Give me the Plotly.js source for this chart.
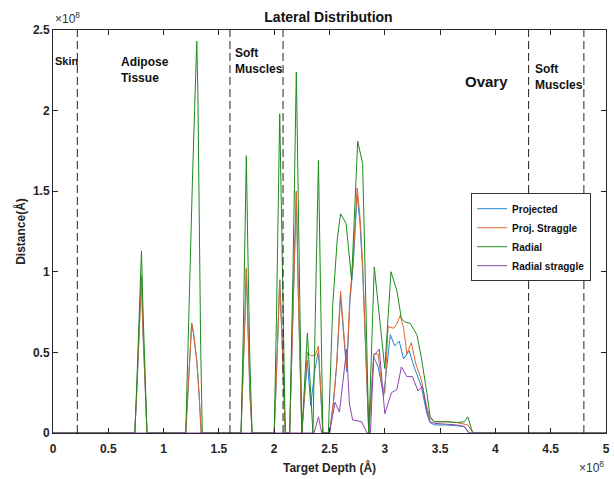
<!DOCTYPE html>
<html>
<head>
<meta charset="utf-8">
<script src="https://cdn.plot.ly/plotly-3.0.1.min.js"></script>
<style>html,body{margin:0;padding:0;background:#fff;}#chart{width:614px;height:479px;}</style>
</head>
<body>
<div id="chart"></div>
<script>
// Values in units of 1e8
var projX = [0,0.74,0.76,0.78,0.795,0.80,0.81,0.83,0.85,
  1.20,1.23,1.254,1.27,1.30,1.32,1.34,
  1.70,1.72,1.735,1.748,1.76,1.78,1.80,
  2.00,2.02,2.035,2.05,2.07,2.085,2.10,
  2.14,2.17,2.20,2.22,2.25,
  2.30,2.33,2.37,2.40,2.44,
  2.50,2.535,2.565,2.60,2.625,2.655,2.685,2.715,2.75,2.776,2.80,2.836,2.855,
  2.90,2.94,2.99,3.05,3.09,3.13,3.17,3.22,3.27,3.33,3.38,3.41,3.45,3.55,3.65,3.72,3.76,5];
var projY = [0,0,0.3,0.6,0.9,0.98,0.7,0.35,0,
  0,0.4,0.68,0.62,0.45,0.25,0,
  0,0.35,0.7,1.02,0.7,0.25,0,
  0,0.35,0.65,0.95,0.6,0.25,0,
  0,0.7,1.50,0.8,0,
  0.45,0.17,0.40,0.51,0,
  0,0.18,0.42,0.85,0.62,0.38,0.82,1.05,1.48,1.30,1.0,0.4,0,
  0.47,0.41,0.23,0.61,0.54,0.57,0.46,0.51,0.40,0.29,0.12,0.064,0.05,0.05,0.045,0.04,0,0];

var pstrX = [0,0.74,0.76,0.78,0.795,0.80,0.81,0.83,0.85,
  1.20,1.23,1.254,1.27,1.30,1.32,1.34,
  1.70,1.72,1.735,1.748,1.76,1.78,1.80,
  2.00,2.02,2.035,2.05,2.07,2.085,2.10,
  2.14,2.17,2.20,2.22,2.25,
  2.30,2.33,2.37,2.40,2.44,
  2.50,2.535,2.565,2.60,2.625,2.655,2.685,2.715,2.75,2.776,2.80,2.836,2.855,
  2.90,2.94,2.97,3.00,3.03,3.08,3.11,3.14,3.17,3.20,3.24,3.28,3.33,3.38,3.41,3.45,3.55,3.65,3.75,3.80,5];
var pstrY = [0,0,0.3,0.6,0.9,0.98,0.7,0.35,0,
  0,0.4,0.68,0.62,0.45,0.25,0,
  0,0.35,0.7,1.02,0.7,0.25,0,
  0,0.35,0.65,0.95,0.6,0.25,0,
  0,0.7,1.50,0.8,0,
  0.50,0.48,0.48,0.54,0,
  0,0.19,0.43,0.88,0.64,0.40,0.85,1.09,1.52,1.34,1.05,0.43,0,
  0.49,0.49,0.31,0.25,0.66,0.65,0.68,0.73,0.65,0.49,0.56,0.43,0.33,0.16,0.09,0.07,0.07,0.065,0.05,0,0];

var radX = [0,0.74,0.76,0.78,0.795,0.80,0.81,0.83,0.85,
  1.20,1.22,1.24,1.26,1.28,1.30,1.31,1.32,1.335,1.35,
  1.70,1.72,1.735,1.748,1.76,1.78,1.80,
  2.00,2.02,2.035,2.05,2.07,2.085,2.10,
  2.14,2.17,2.20,2.22,2.25,
  2.30,2.35,2.40,2.44,
  2.49,2.53,2.57,2.60,2.65,2.70,2.755,2.80,2.855,
  2.905,3.00,3.056,3.11,3.15,3.18,3.23,3.29,3.33,3.38,3.41,3.45,3.55,3.65,3.72,3.75,3.795,5];
var radY = [0,0,0.35,0.75,1.05,1.13,0.85,0.4,0,
  0,0.55,1.05,1.55,2.0,2.43,2.1,1.4,0.55,0,
  0,0.6,1.2,1.72,1.2,0.45,0,
  0,0.7,1.4,1.98,1.2,0.5,0,
  0,1.0,2.24,1.3,0,
  0.62,0,1.69,0,
  0,0.8,1.2,1.36,1.30,0.95,1.81,1.67,0,
  1.03,0.40,1.0,0.88,0.71,0.69,0.68,0.61,0.47,0.25,0.10,0.07,0.07,0.065,0.07,0.10,0,0];

var rstrX = [0,2.36,2.40,2.43,2.50,2.55,2.59,2.655,2.68,2.71,2.79,2.84,2.87,
  2.90,2.95,3.00,3.06,3.11,3.15,3.20,3.25,3.30,3.34,3.38,3.41,3.45,3.55,3.65,3.72,3.76,5];
var rstrY = [0,0,0.10,0,0,0.19,0.13,0.52,0.18,0.08,0.07,0,0,
  0.48,0.52,0.12,0.25,0.27,0.41,0.35,0.35,0.26,0.29,0.14,0.07,0.06,0.055,0.05,0.04,0,0];

var seriesNames = ["Projected","Proj. Straggle","Radial","Radial straggle"];
var seriesColors = ["#1f86d0","#e0672c","#1b8a1b","#8e44ad"];

var boundaries = [0.22,1.60,2.08,4.30,4.80];
var tissueLabels = ["Skin","Adipose<br>Tissue","Soft<br>Muscles","Ovary","Soft<br>Muscles"];
var tissueX = [0.0,0.60,1.63,3.71,4.34];
var tissueY = [2.31,2.25,2.31,2.18,2.21];
var tissueSize = [11,12,12,15,12];

var xTicks = [0,0.5,1,1.5,2,2.5,3,3.5,4,4.5,5];
var yTicks = [0,0.5,1,1.5,2,2.5];

var xs = [projX,pstrX,radX,rstrX];
var ys = [projY,pstrY,radY,rstrY];
var traces = [];
for (var i=0;i<4;i++){
  traces.push({x:xs[i],y:ys[i],type:'scatter',mode:'lines',name:'<b>'+seriesNames[i]+'</b>',
    line:{color:seriesColors[i],width:1}});
}

var shapes = boundaries.map(function(b){
  return {type:'line',xref:'x',yref:'paper',x0:b,x1:b,y0:0,y1:1,
    line:{color:'#222',width:1,dash:'8px,4px'}};
});

var annotations = tissueLabels.map(function(t,i){
  return {text:'<b>'+t+'</b>',x:tissueX[i],y:tissueY[i],xref:'x',yref:'y',
    xanchor:'left',yanchor:'middle',align:'left',showarrow:false,
    font:{family:'Arial, Liberation Sans, sans-serif',size:tissueSize[i],color:'#111'}};
});
annotations.push({text:'×10<sup>8</sup>',xref:'paper',yref:'paper',x:0,y:1,
  xanchor:'left',yanchor:'bottom',showarrow:false,yshift:2,
  font:{family:'Arial, Liberation Sans, sans-serif',size:12,color:'#333'}});
annotations.push({text:'×10<sup>8</sup>',xref:'paper',yref:'paper',x:1,y:0,
  xanchor:'right',yanchor:'top',showarrow:false,yshift:-24,
  font:{family:'Arial, Liberation Sans, sans-serif',size:12,color:'#333'}});

var axisFont = {family:'Arial, Liberation Sans, sans-serif',size:12,color:'#262626'};
var layout = {
  width:614,height:479,
  margin:{l:53,r:8,t:30,b:46},
  paper_bgcolor:'#fff',plot_bgcolor:'#fff',
  title:{text:'<b>Lateral Distribution</b>',x:0.535,xanchor:'center',y:0.965,yanchor:'middle',
    font:{family:'Arial, Liberation Sans, sans-serif',size:14,color:'#111'}},
  xaxis:{range:[0,5],tickvals:xTicks,ticktext:xTicks.map(function(v){return '<b>'+v+'</b>';}),
    ticks:'inside',ticklen:5,tickcolor:'#262626',showline:true,linecolor:'#262626',linewidth:1,
    mirror:'ticks',showgrid:false,zeroline:false,tickfont:axisFont,ticklabelstandoff:5,
    title:{text:'<b>Target Depth (Å)</b>',font:{family:'Arial, Liberation Sans, sans-serif',size:12,color:'#262626'},standoff:8}},
  yaxis:{range:[0,2.5],tickvals:yTicks,ticktext:yTicks.map(function(v){return '<b>'+v+'</b>';}),
    ticks:'inside',ticklen:5,tickcolor:'#262626',showline:true,linecolor:'#262626',linewidth:1,
    mirror:'ticks',showgrid:false,zeroline:false,tickfont:axisFont,
    title:{text:'<b>Distance(Å)</b>',font:{family:'Arial, Liberation Sans, sans-serif',size:12,color:'#262626'},standoff:4}},
  legend:{x:0.756,y:0.595,xanchor:'left',yanchor:'top',bgcolor:'#fff',bordercolor:'#333',borderwidth:1,
    font:{family:'Arial, Liberation Sans, sans-serif',size:10,color:'#111'},tracegroupgap:0,itemwidth:30},
  shapes:shapes,
  annotations:annotations,
  showlegend:true
};
Plotly.newPlot('chart',traces,layout,{staticPlot:true,displayModeBar:false});
</script>
</body>
</html>
